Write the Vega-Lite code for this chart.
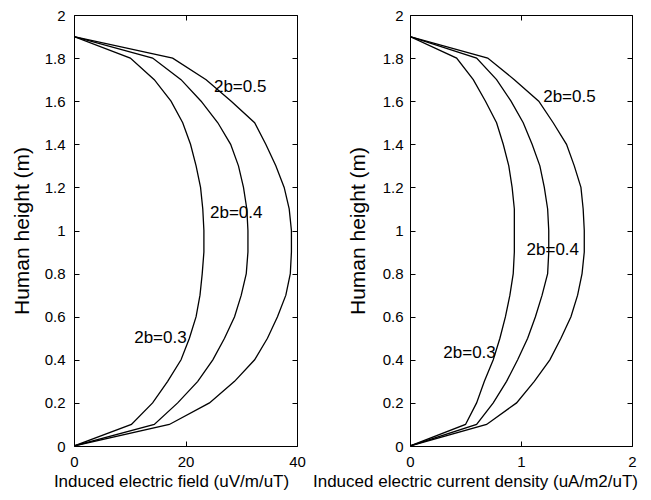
{
  "$schema": "https://vega.github.io/schema/vega-lite/v6.json",
  "padding": {"left": 10, "top": 7, "right": 5, "bottom": 5},
  "bounds": "flush",
  "spacing": 113,
  "background": "white",
  "config": {
    "view": {"stroke": "black", "strokeWidth": 1},
    "font": "Liberation Sans",
    "axis": {
      "grid": false,
      "domain": false,
      "tickColor": "black",
      "tickSize": -5,
      "labelColor": "black",
      "labelFontSize": 15,
      "labelFont": "Liberation Sans",
      "labelFlush": false,
      "labelOverlap": false,
      "titleFont": "Liberation Sans",
      "titleFontSize": 17,
      "titleFontWeight": "normal",
      "titleColor": "black",
      "format": "~r"
    },
    "text": {"font": "Liberation Sans", "fontSize": 17, "color": "black"}
  },
  "datasets": {
    "field": [
      {"b": "0.3", "h": 0, "v": 0}, {"b": "0.3", "h": 0.1, "v": 10.3}, {"b": "0.3", "h": 0.2, "v": 14.1}, {"b": "0.3", "h": 0.3, "v": 16.8}, {"b": "0.3", "h": 0.4, "v": 19.2},
      {"b": "0.3", "h": 0.5, "v": 20.7}, {"b": "0.3", "h": 0.6, "v": 21.9}, {"b": "0.3", "h": 0.7, "v": 22.6}, {"b": "0.3", "h": 0.8, "v": 23.0}, {"b": "0.3", "h": 0.9, "v": 23.3},
      {"b": "0.3", "h": 1.0, "v": 23.3}, {"b": "0.3", "h": 1.1, "v": 23.1}, {"b": "0.3", "h": 1.2, "v": 22.7}, {"b": "0.3", "h": 1.3, "v": 21.9}, {"b": "0.3", "h": 1.4, "v": 20.9},
      {"b": "0.3", "h": 1.5, "v": 19.5}, {"b": "0.3", "h": 1.6, "v": 17.4}, {"b": "0.3", "h": 1.7, "v": 14.4}, {"b": "0.3", "h": 1.8, "v": 10.1}, {"b": "0.3", "h": 1.9, "v": 0},
      {"b": "0.4", "h": 0, "v": 0}, {"b": "0.4", "h": 0.1, "v": 14.4}, {"b": "0.4", "h": 0.2, "v": 18.6}, {"b": "0.4", "h": 0.3, "v": 22.2}, {"b": "0.4", "h": 0.4, "v": 24.9},
      {"b": "0.4", "h": 0.5, "v": 27.0}, {"b": "0.4", "h": 0.6, "v": 28.8}, {"b": "0.4", "h": 0.7, "v": 30.0}, {"b": "0.4", "h": 0.8, "v": 30.9}, {"b": "0.4", "h": 0.9, "v": 31.2},
      {"b": "0.4", "h": 1.0, "v": 31.2}, {"b": "0.4", "h": 1.1, "v": 31.0}, {"b": "0.4", "h": 1.2, "v": 30.4}, {"b": "0.4", "h": 1.3, "v": 29.5}, {"b": "0.4", "h": 1.4, "v": 28.1},
      {"b": "0.4", "h": 1.5, "v": 25.8}, {"b": "0.4", "h": 1.6, "v": 22.8}, {"b": "0.4", "h": 1.7, "v": 19.2}, {"b": "0.4", "h": 1.8, "v": 14.1}, {"b": "0.4", "h": 1.9, "v": 0},
      {"b": "0.5", "h": 0, "v": 0}, {"b": "0.5", "h": 0.1, "v": 17.1}, {"b": "0.5", "h": 0.2, "v": 24.3}, {"b": "0.5", "h": 0.3, "v": 28.8}, {"b": "0.5", "h": 0.4, "v": 32.4},
      {"b": "0.5", "h": 0.5, "v": 34.7}, {"b": "0.5", "h": 0.6, "v": 36.5}, {"b": "0.5", "h": 0.7, "v": 38.0}, {"b": "0.5", "h": 0.8, "v": 38.8}, {"b": "0.5", "h": 0.9, "v": 39.0},
      {"b": "0.5", "h": 1.0, "v": 39.0}, {"b": "0.5", "h": 1.1, "v": 38.6}, {"b": "0.5", "h": 1.2, "v": 37.7}, {"b": "0.5", "h": 1.3, "v": 36.2}, {"b": "0.5", "h": 1.4, "v": 34.4},
      {"b": "0.5", "h": 1.5, "v": 32.4}, {"b": "0.5", "h": 1.6, "v": 28.2}, {"b": "0.5", "h": 1.7, "v": 23.7}, {"b": "0.5", "h": 1.8, "v": 17.7}, {"b": "0.5", "h": 1.9, "v": 0}
    ],
    "current": [
      {"b": "0.3", "h": 0, "v": 0}, {"b": "0.3", "h": 0.1, "v": 0.50}, {"b": "0.3", "h": 0.2, "v": 0.60}, {"b": "0.3", "h": 0.3, "v": 0.67}, {"b": "0.3", "h": 0.4, "v": 0.75},
      {"b": "0.3", "h": 0.5, "v": 0.81}, {"b": "0.3", "h": 0.6, "v": 0.86}, {"b": "0.3", "h": 0.7, "v": 0.90}, {"b": "0.3", "h": 0.8, "v": 0.93}, {"b": "0.3", "h": 0.9, "v": 0.94},
      {"b": "0.3", "h": 1.0, "v": 0.94}, {"b": "0.3", "h": 1.1, "v": 0.94}, {"b": "0.3", "h": 1.2, "v": 0.92}, {"b": "0.3", "h": 1.3, "v": 0.89}, {"b": "0.3", "h": 1.4, "v": 0.84},
      {"b": "0.3", "h": 1.5, "v": 0.78}, {"b": "0.3", "h": 1.6, "v": 0.68}, {"b": "0.3", "h": 1.7, "v": 0.57}, {"b": "0.3", "h": 1.8, "v": 0.42}, {"b": "0.3", "h": 1.9, "v": 0},
      {"b": "0.4", "h": 0, "v": 0}, {"b": "0.4", "h": 0.1, "v": 0.60}, {"b": "0.4", "h": 0.2, "v": 0.75}, {"b": "0.4", "h": 0.3, "v": 0.87}, {"b": "0.4", "h": 0.4, "v": 0.97},
      {"b": "0.4", "h": 0.5, "v": 1.06}, {"b": "0.4", "h": 0.6, "v": 1.13}, {"b": "0.4", "h": 0.7, "v": 1.19}, {"b": "0.4", "h": 0.8, "v": 1.24}, {"b": "0.4", "h": 0.9, "v": 1.25},
      {"b": "0.4", "h": 1.0, "v": 1.25}, {"b": "0.4", "h": 1.1, "v": 1.24}, {"b": "0.4", "h": 1.2, "v": 1.21}, {"b": "0.4", "h": 1.3, "v": 1.17}, {"b": "0.4", "h": 1.4, "v": 1.10},
      {"b": "0.4", "h": 1.5, "v": 1.02}, {"b": "0.4", "h": 1.6, "v": 0.91}, {"b": "0.4", "h": 1.7, "v": 0.78}, {"b": "0.4", "h": 1.8, "v": 0.60}, {"b": "0.4", "h": 1.9, "v": 0},
      {"b": "0.5", "h": 0, "v": 0}, {"b": "0.5", "h": 0.1, "v": 0.69}, {"b": "0.5", "h": 0.2, "v": 0.96}, {"b": "0.5", "h": 0.3, "v": 1.12}, {"b": "0.5", "h": 0.4, "v": 1.26},
      {"b": "0.5", "h": 0.5, "v": 1.36}, {"b": "0.5", "h": 0.6, "v": 1.45}, {"b": "0.5", "h": 0.7, "v": 1.51}, {"b": "0.5", "h": 0.8, "v": 1.55}, {"b": "0.5", "h": 0.9, "v": 1.57},
      {"b": "0.5", "h": 1.0, "v": 1.57}, {"b": "0.5", "h": 1.1, "v": 1.56}, {"b": "0.5", "h": 1.2, "v": 1.54}, {"b": "0.5", "h": 1.3, "v": 1.48}, {"b": "0.5", "h": 1.4, "v": 1.41},
      {"b": "0.5", "h": 1.5, "v": 1.29}, {"b": "0.5", "h": 1.6, "v": 1.16}, {"b": "0.5", "h": 1.7, "v": 0.94}, {"b": "0.5", "h": 1.8, "v": 0.70}, {"b": "0.5", "h": 1.9, "v": 0}
    ],
    "fieldLabels": [
      {"label": "2b=0.5", "v": 25.1, "h": 1.665},
      {"label": "2b=0.4", "v": 24.4, "h": 1.08},
      {"label": "2b=0.3", "v": 10.8, "h": 0.50}
    ],
    "currentLabels": [
      {"label": "2b=0.5", "v": 1.2, "h": 1.62},
      {"label": "2b=0.4", "v": 1.05, "h": 0.91},
      {"label": "2b=0.3", "v": 0.30, "h": 0.43}
    ]
  },
  "hconcat": [
    {
      "width": 223,
      "height": 431,
      "resolve": {"axis": {"x": "independent", "y": "independent"}},
      "layer": [
        {
          "data": {"name": "field"},
          "mark": {"type": "line", "color": "black", "strokeWidth": 1.3, "clip": true},
          "encoding": {
            "x": {"field": "v", "type": "quantitative", "scale": {"domain": [0, 40], "nice": false},
              "axis": {"values": [0, 20, 40], "title": "Induced electric field (uV/m/uT)", "labelPadding": 13, "titlePadding": 4, "titleX": 97, "titleAnchor": null, "titleAlign": "center"}},
            "y": {"field": "h", "type": "quantitative", "scale": {"domain": [0, 2], "nice": false},
              "axis": {"values": [0, 0.2, 0.4, 0.6, 0.8, 1, 1.2, 1.4, 1.6, 1.8, 2], "title": "Human height (m)", "titleFontSize": 21, "labelPadding": 14, "minExtent": 32, "maxExtent": 32, "titlePadding": 10}},
            "detail": {"field": "b"},
            "order": {"field": "h"}
          }
        },
        {
          "data": {"name": "fieldLabels"},
          "mark": {"type": "text", "align": "left", "baseline": "middle"},
          "encoding": {
            "x": {"field": "v", "type": "quantitative", "scale": {"domain": [0, 40], "nice": false},
              "axis": {"orient": "top", "values": [0, 20, 40], "labels": false, "title": null}},
            "y": {"field": "h", "type": "quantitative", "scale": {"domain": [0, 2], "nice": false},
              "axis": {"orient": "right", "values": [0, 0.2, 0.4, 0.6, 0.8, 1, 1.2, 1.4, 1.6, 1.8, 2], "labels": false, "title": null}},
            "text": {"field": "label"}
          }
        }
      ]
    },
    {
      "width": 222,
      "height": 431,
      "resolve": {"axis": {"x": "independent", "y": "independent"}},
      "layer": [
        {
          "data": {"name": "current"},
          "mark": {"type": "line", "color": "black", "strokeWidth": 1.3, "clip": true},
          "encoding": {
            "x": {"field": "v", "type": "quantitative", "scale": {"domain": [0, 2], "nice": false},
              "axis": {"values": [0, 1, 2], "title": "Induced electric current density (uA/m2/uT)", "labelPadding": 13, "titlePadding": 4, "titleX": 65, "titleAnchor": null, "titleAlign": "center"}},
            "y": {"field": "h", "type": "quantitative", "scale": {"domain": [0, 2], "nice": false},
              "axis": {"values": [0, 0.2, 0.4, 0.6, 0.8, 1, 1.2, 1.4, 1.6, 1.8, 2], "title": "Human height (m)", "titleFontSize": 21, "labelPadding": 12, "minExtent": 32, "maxExtent": 32, "titlePadding": 10}},
            "detail": {"field": "b"},
            "order": {"field": "h"}
          }
        },
        {
          "data": {"name": "currentLabels"},
          "mark": {"type": "text", "align": "left", "baseline": "middle"},
          "encoding": {
            "x": {"field": "v", "type": "quantitative", "scale": {"domain": [0, 2], "nice": false},
              "axis": {"orient": "top", "values": [0, 1, 2], "labels": false, "title": null}},
            "y": {"field": "h", "type": "quantitative", "scale": {"domain": [0, 2], "nice": false},
              "axis": {"orient": "right", "values": [0, 0.2, 0.4, 0.6, 0.8, 1, 1.2, 1.4, 1.6, 1.8, 2], "labels": false, "title": null}},
            "text": {"field": "label"}
          }
        }
      ]
    }
  ]
}
